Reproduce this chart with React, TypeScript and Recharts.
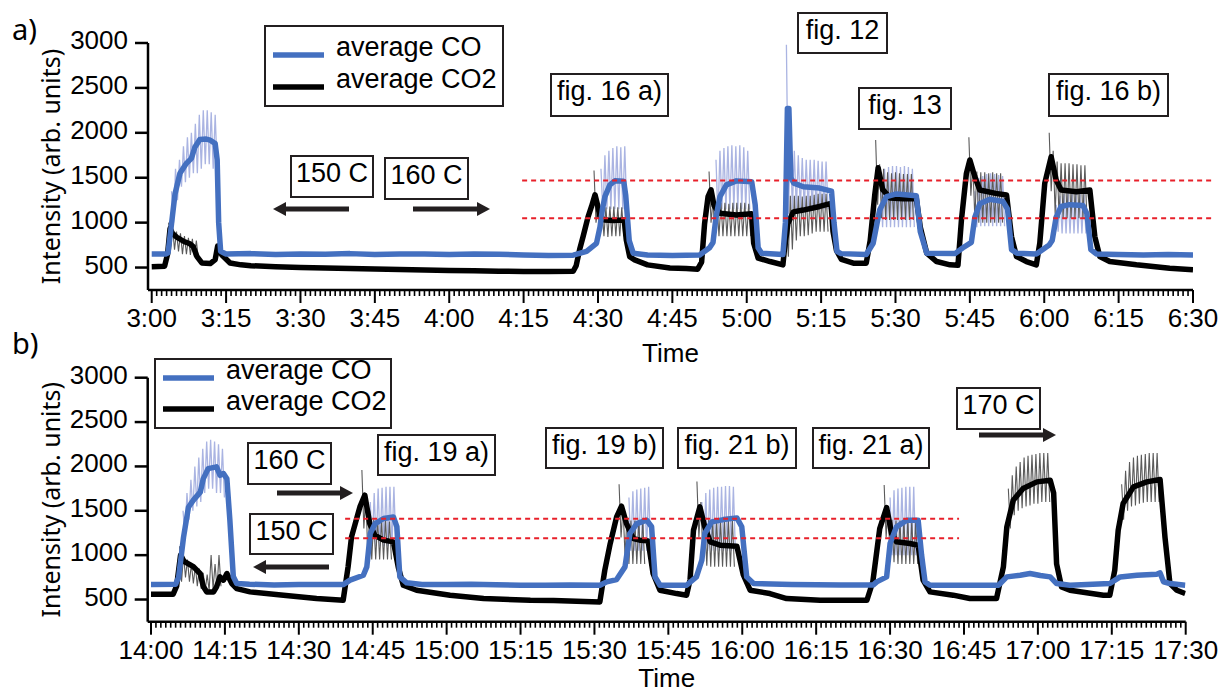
import React from "react";
import { LineChart, Line, XAxis, YAxis, ReferenceLine, Legend } from "recharts";

const SANS = "'Liberation Sans', Arial, Helvetica, sans-serif";
const HUMAN = "'Noto Sans', 'Open Sans', sans-serif";

const labelsA = ["3:00", "3:15", "3:30", "3:45", "4:00", "4:15", "4:30", "4:45", "5:00", "5:15", "5:30", "5:45", "6:00", "6:15", "6:30"];
const labelsB = ["14:00", "14:15", "14:30", "14:45", "15:00", "15:15", "15:30", "15:45", "16:00", "16:15", "16:30", "16:45", "17:00", "17:15", "17:30"];
const yTicks = [500, 1000, 1500, 2000, 2500, 3000];

// averages, [minutes after start, intensity]
const coA: [number, number][] = [
  [0, 650], [2.8, 650], [3.3, 665], [4.0, 990], [4.7, 1320], [5.7, 1550], [7.0, 1660], [8.0, 1715], [8.7, 1840], [9.7, 1925],
  [11.0, 1930], [11.8, 1918], [12.8, 1880], [13.2, 1700], [13.5, 1000], [13.9, 680], [15, 650], [20, 655], [25, 645], [30, 650],
  [35, 648], [40, 655], [45, 645], [50, 650], [55, 652], [60, 645], [65, 650], [70, 648], [75, 640], [80, 635], [85, 638],
  [87.7, 680], [89.7, 770], [90.4, 950], [90.9, 1150], [91.4, 1290], [92.4, 1420], [93.4, 1465], [95.2, 1460], [95.6, 1300],
  [96.3, 800], [97.1, 660], [100, 640], [105, 635], [110.5, 640], [112.5, 720], [113.2, 780], [113.8, 1060], [114.6, 1290],
  [115.9, 1420], [117.9, 1465], [121.0, 1455], [121.7, 1200], [122.3, 720], [123.0, 660], [127.3, 645], [127.8, 1000],
  [128.2, 2270], [128.5, 2270], [128.9, 1500], [129.5, 1440], [131.4, 1400], [134.7, 1385], [137.1, 1350], [137.6, 1000],
  [138.2, 680], [139, 655], [144.1, 645], [145.5, 770], [146.8, 1140], [148.2, 1290], [150.2, 1320], [154.2, 1300], [155.0, 900],
  [156.3, 660], [162, 655], [163.6, 720], [165.3, 780], [166.0, 1060], [167.0, 1210], [169.0, 1260], [171.7, 1235], [172.6, 1150],
  [173.4, 700], [174.5, 660], [178.4, 650], [181.0, 750], [181.6, 800], [182.4, 1060], [183.4, 1180], [185.1, 1200], [187.8, 1190],
  [188.6, 1100], [189.4, 700], [190.5, 652], [195, 645], [200, 640], [205, 645], [210, 640],
];

const co2A: [number, number][] = [
  [0, 510], [2.6, 515], [3.2, 650], [3.7, 935], [4.2, 880], [5.0, 840], [6.5, 790], [7.7, 765], [8.4, 730], [9.1, 625],
  [10.1, 551], [11.8, 544], [12.8, 589], [13.3, 740], [13.7, 680], [14.1, 643], [15.8, 551], [18, 530], [20, 520], [25, 510],
  [30, 500], [35, 495], [40, 490], [45, 485], [50, 478], [55, 472], [60, 468], [65, 465], [70, 460], [75, 455], [80, 455],
  [85, 458], [85.6, 520], [86.3, 700], [87.0, 845], [88.0, 1065], [88.7, 1180], [89.4, 1310], [89.9, 1200], [90.4, 1065],
  [91.3, 1030], [93.0, 1025], [95.3, 1030], [95.7, 810], [96.4, 620], [97.4, 585], [100, 530], [104.5, 495], [107.8, 490],
  [110.1, 482], [110.9, 560], [111.5, 990], [112.2, 1290], [112.8, 1365], [113.4, 1190], [114.0, 1140], [114.6, 1105],
  [117.9, 1085], [121.0, 1100], [121.4, 770], [122.3, 605], [124.7, 567], [127.3, 530], [127.6, 700], [128.3, 990],
  [129.4, 1120], [131.4, 1140], [134.7, 1180], [137.0, 1215], [137.4, 900], [138.1, 690], [139.1, 590], [141.5, 549],
  [144.1, 549], [144.9, 800], [145.8, 1300], [146.5, 1610], [147.4, 1370], [148.9, 1275], [151.5, 1265], [154.2, 1270],
  [155.0, 950], [156.3, 660], [158.3, 567], [161.0, 530], [162.6, 525], [163.3, 1030], [164.3, 1548], [165.0, 1697],
  [166.0, 1510], [167.0, 1363], [170.2, 1326], [172.4, 1308], [173.4, 845], [174.4, 623], [176.4, 567], [178.4, 530],
  [179.1, 770], [180.1, 1437], [181.4, 1734], [182.4, 1474], [183.4, 1363], [186.5, 1345], [189.2, 1363], [190.2, 845],
  [191.2, 623], [193.2, 567], [198.6, 530], [205.3, 493], [210, 475],
];

const coB: [number, number][] = [
  [0, 670], [5.0, 672], [5.6, 750], [6.6, 1200], [7.6, 1540], [8.6, 1620], [10.0, 1710], [10.6, 1860], [11.6, 1975], [13.3, 1995],
  [14.0, 1900], [14.7, 1920], [15.4, 1860], [16.0, 1400], [16.7, 760], [17.4, 680], [20, 672], [25, 665], [30, 668], [35, 670],
  [39, 668], [40.4, 718], [43.1, 774], [43.8, 868], [44.5, 1244], [45.5, 1356], [47.2, 1413], [49.2, 1431], [49.9, 1320],
  [50.5, 755], [51.9, 688], [55, 670], [60, 668], [65, 672], [70, 666], [75, 661], [80, 662], [85, 665], [91.1, 661],
  [92.5, 699], [94.5, 725], [96.2, 868], [97.2, 1244], [98.6, 1356], [100.6, 1394], [101.6, 1320], [102.3, 755], [103.3, 661],
  [108.7, 661], [110.7, 755], [111.8, 943], [112.4, 1244], [113.8, 1375], [116.2, 1401], [118.9, 1420], [119.9, 1320],
  [120.9, 755], [122.3, 680], [130, 670], [140, 665], [146.6, 665], [147.3, 699], [149.3, 755], [150.0, 1131], [151.3, 1319],
  [153.4, 1394], [155.7, 1394], [156.4, 1000], [157.1, 699], [158.1, 661], [165, 662], [172, 661], [173.7, 755], [176.4, 774],
  [178.4, 793], [180.5, 770], [182.5, 755], [183.8, 680], [186.5, 661], [194.6, 680], [196.7, 755], [200.1, 774], [204.1, 785],
  [204.8, 800], [205.5, 700], [206.8, 680], [209.9, 661],
];

const co2B: [number, number][] = [
  [0, 560], [4.5, 560], [5.2, 650], [6.0, 1000], [6.7, 930], [8.6, 870], [10.0, 790], [10.6, 650], [11.3, 586], [12.7, 586],
  [13.3, 642], [14.0, 755], [14.7, 718], [15.4, 793], [16.4, 680], [17.4, 623], [20.1, 586], [26.9, 549], [33.6, 511], [39.0, 492],
  [40.0, 868], [40.7, 1206], [42.4, 1544], [43.4, 1676], [44.4, 1356], [45.4, 1225], [47.2, 1169], [49.2, 1150], [50.2, 860],
  [51.2, 661], [53.9, 605], [60.7, 549], [67.5, 511], [77, 492], [81.7, 490], [91.1, 473], [92.1, 830], [93.2, 1131],
  [94.5, 1431], [95.5, 1552], [96.5, 1356], [97.9, 1187], [99.2, 1169], [100.9, 1161], [101.9, 793], [103.3, 605], [106.7, 567],
  [108.7, 549], [109.4, 720], [110.1, 1281], [111.4, 1544], [112.4, 1319], [113.5, 1150], [115.5, 1112], [118.9, 1101],
  [120.2, 780], [121.6, 605], [125.6, 567], [129.0, 511], [135.8, 492], [145.3, 492], [146.5, 700], [147.9, 1300], [149.3, 1537],
  [150.3, 1244], [151.3, 1150], [154.0, 1131], [155.7, 1112], [156.7, 718], [158.1, 586], [162.8, 549], [166.2, 511],
  [171.6, 511], [173.0, 868], [173.7, 1319], [175.0, 1619], [177.0, 1751], [179.8, 1826], [182.5, 1845], [183.2, 1700],
  [183.8, 900], [184.8, 642], [186.5, 605], [193.3, 549], [194.6, 549], [195.6, 830], [196.3, 1281], [197.3, 1582],
  [199.4, 1770], [202.1, 1826], [204.8, 1852], [205.8, 1200], [206.8, 680], [208.2, 605], [209.9, 567],
];

// raw pulsed signal: [start minute, [[high, low] per pulse]]
type Block = [number, [number, number][]];
const PULSE = 0.8;

const coRawA: Block[] = [
  [4.0, [[1350, 1000], [1600, 1250], [1700, 1400], [1850, 1450], [1950, 1500], [2000, 1550], [2100, 1550], [2200, 1600], [2250, 1650], [2250, 1650], [2230, 1600], [2200, 1600]]],
  [90.6, [[1600, 1100], [1750, 1150], [1800, 1150], [1830, 1150], [1850, 1150], [1840, 1150], [1850, 1150]]],
  [113.8, [[1700, 1050], [1800, 1150], [1830, 1150], [1850, 1150], [1860, 1150], [1850, 1150], [1860, 1150], [1840, 1150], [1800, 1150]]],
  [128.0, [[2980, 1100], [1900, 1150], [1800, 1150], [1750, 1150], [1720, 1150], [1700, 1150], [1700, 1150], [1700, 1150], [1690, 1150], [1680, 1150], [1680, 1150]]],
  [147.0, [[1500, 950], [1600, 950], [1620, 950], [1630, 950], [1630, 950], [1620, 950], [1630, 950], [1620, 950], [1600, 950]]],
  [166.0, [[1350, 950], [1500, 960], [1520, 960], [1540, 960], [1550, 960], [1540, 960], [1530, 960], [1520, 960]]],
  [182.4, [[1200, 900], [1300, 880], [1320, 880], [1330, 880], [1330, 880], [1330, 880], [1320, 880], [1320, 880]]],
];

const co2RawA: Block[] = [
  [3.4, [[1000, 700], [950, 700], [900, 680], [880, 650], [850, 650], [830, 640], [820, 620], [800, 600]]],
  [89.2, [[1580, 1000], [1180, 850], [1180, 850], [1170, 840], [1180, 850], [1180, 850], [1170, 850], [1170, 850]]],
  [112.4, [[1570, 1000], [1250, 850], [1220, 850], [1220, 850], [1220, 850], [1210, 850], [1220, 850], [1220, 850], [1220, 850], [1220, 850], [1210, 850]]],
  [128.0, [[1000, 620], [1300, 700], [1300, 800], [1300, 850], [1290, 850], [1300, 860], [1300, 880], [1310, 900], [1320, 900], [1320, 900], [1320, 900]]],
  [146.0, [[1920, 1200], [1650, 1050], [1600, 1030], [1560, 1030], [1550, 1030], [1560, 1030], [1550, 1030], [1540, 1030], [1540, 1030], [1540, 1030]]],
  [164.8, [[1950, 1300], [1650, 1050], [1570, 1000], [1560, 1000], [1560, 1000], [1550, 1000], [1560, 1000], [1550, 1000], [1550, 1000]]],
  [181.0, [[2000, 1350], [1800, 1100], [1680, 1050], [1660, 1050], [1660, 1050], [1660, 1050], [1650, 1050], [1650, 1050], [1640, 1050], [1640, 1050]]],
];

const coRawB: Block[] = [
  [6.5, [[1500, 1200], [1700, 1400], [1850, 1500], [2000, 1550], [2100, 1600], [2200, 1700], [2280, 1750], [2300, 1750], [2280, 1700], [2250, 1700], [2200, 1650]]],
  [44.5, [[1600, 1100], [1700, 1100], [1750, 1100], [1760, 1100], [1770, 1100], [1770, 1100], [1770, 1100]]],
  [97.0, [[1650, 1050], [1720, 1050], [1740, 1050], [1750, 1050], [1760, 1050], [1770, 1050]]],
  [111.8, [[1600, 1000], [1700, 1050], [1740, 1050], [1760, 1050], [1770, 1050], [1770, 1050], [1780, 1050], [1780, 1050], [1770, 1050]]],
  [150.0, [[1650, 1000], [1730, 1000], [1750, 1000], [1760, 1000], [1770, 1000], [1770, 1000], [1770, 1000]]],
];

const co2RawB: Block[] = [
  [5.8, [[1100, 700], [1000, 750], [950, 700], [900, 680], [880, 650], [850, 620], [800, 600], [780, 600], [1000, 620], [900, 620], [1000, 650]]],
  [42.8, [[1960, 1300], [1700, 1000], [1500, 950], [1400, 950], [1400, 950], [1390, 950], [1400, 950], [1380, 950]]],
  [95.0, [[1800, 1200], [1550, 1000], [1400, 900], [1390, 900], [1390, 900], [1400, 900], [1390, 900]]],
  [110.8, [[1830, 1200], [1600, 1000], [1420, 880], [1400, 870], [1400, 870], [1400, 870], [1390, 870], [1400, 870], [1400, 870], [1390, 870]]],
  [148.8, [[1790, 1200], [1550, 950], [1400, 920], [1390, 900], [1390, 900], [1390, 900], [1390, 900], [1380, 900], [1380, 900]]],
  [174.0, [[1750, 1300], [1900, 1450], [2000, 1500], [2050, 1530], [2100, 1550], [2120, 1560], [2130, 1580], [2140, 1580], [2150, 1600], [2150, 1600], [2150, 1600]]],
  [197.0, [[1800, 1400], [1950, 1500], [2050, 1550], [2100, 1560], [2120, 1580], [2130, 1590], [2140, 1600], [2150, 1600], [2150, 1600], [2150, 1600]]],
];

// red dashed guide levels and their span in minutes
const refLevelsA = [1470, 1050];
const refSpanA = [74.7, 214];
const refLevelsB = [1410, 1190];
const refSpanB = [39.4, 164];

const pts = (arr: [number, number][]) => arr.map(([t, v]) => ({ t, v }));

function zigzag(blocks: Block[]) {
  const out: { t: number; v: number | null }[] = [];
  blocks.forEach(([t0, pairs]) => {
    pairs.forEach(([hi, lo], i) => {
      out.push({ t: t0 + i * PULSE, v: hi });
      out.push({ t: t0 + i * PULSE + PULSE / 2, v: lo });
    });
    out.push({ t: t0 + pairs.length * PULSE, v: null });
  });
  return out;
}

const minuteTicks = Array.from({ length: 211 }, (_, i) => i);

const BLUE = "#4470c0";
const LIGHT_BLUE = "#aab4e2";
const GRAY = "#5a5a5a";
const RED = "#e8202a";

function XTick(props: any) {
  const { x, y, payload, labels } = props;
  const m = payload.value;
  const major = m % 15 === 0;
  return (
    <g>
      <line x1={x} x2={x} y1={y} y2={y + (major ? 13 : 6)} stroke="#000" strokeWidth={major ? 2 : 1.6} />
      {major && (
        <text x={x} y={y + 37} textAnchor="middle" fontSize={26} fontFamily={SANS} fill="#000">
          {labels[m / 15]}
        </text>
      )}
    </g>
  );
}

function YTick(props: any) {
  const { x, y, payload } = props;
  return (
    <text x={x} y={y + 6} textAnchor="end" fontSize={26} fontFamily={SANS} fill="#000">
      {payload.value}
    </text>
  );
}

const PAD = 10;

function LegendBox({ w, h, rows }: { w: number; h: number; rows: { label: string; color: string; y: number }[] }) {
  return (
    <svg width={w + 2 * PAD} height={h + 2 * PAD} style={{ display: "block" }}>
      <g transform={`translate(${PAD},${PAD})`}>
        <rect x={1} y={1} width={w - 2} height={h - 2} fill="#fff" stroke="#231f20" strokeWidth={2} />
        {rows.map((r) => (
          <g key={r.label}>
            <line x1={9} x2={60} y1={r.y} y2={r.y} stroke={r.color} strokeWidth={5.5} />
            <text x={72} y={r.y + 1} fontSize={27} fontFamily={SANS} fill="#000">
              {r.label}
            </text>
          </g>
        ))}
      </g>
    </svg>
  );
}

type PanelProps = {
  top: number;
  height: number;
  margin: { top: number; right: number; bottom: number; left: number };
  xStart: number;
  axisHeight: number;
  labels: string[];
  co: [number, number][];
  co2: [number, number][];
  coRaw: Block[];
  co2Raw: Block[];
  refLevels: number[];
  refSpan: number[];
  legend: { left: number; top: number; w: number; h: number; y1: number; y2: number };
  timeOffset: number;
};

function Panel(p: PanelProps) {
  return (
    <div style={{ position: "absolute", left: 0, top: p.top }}>
      <LineChart width={1224} height={p.height} margin={p.margin}>
        <XAxis
          type="number"
          dataKey="t"
          domain={[p.xStart, 210]}
          allowDataOverflow
          ticks={minuteTicks}
          interval={0}
          tickSize={0}
          tickMargin={0}
          tickLine={false}
          tick={(tp: any) => <XTick {...tp} labels={p.labels} />}
          axisLine={{ stroke: "#000", strokeWidth: 2.5 }}
          height={p.axisHeight}
          label={{ value: "Time", position: "insideBottom", offset: p.timeOffset, style: { fontSize: 26, fontFamily: SANS, fill: "#000" } }}
        />
        <YAxis
          type="number"
          domain={[250, 3000]}
          allowDataOverflow
          ticks={yTicks}
          interval={0}
          width={70}
          tickSize={13}
          tickMargin={7}
          tickLine={{ stroke: "#000", strokeWidth: 2.5 }}
          axisLine={{ stroke: "#000", strokeWidth: 2.5 }}
          tick={(tp: any) => <YTick {...tp} />}
          label={{
            value: "Intensity (arb. units)",
            angle: -90,
            position: "insideLeft",
            offset: -27,
            style: { textAnchor: "middle", fontSize: 25, fontFamily: HUMAN, fill: "#000" },
          }}
        />
        <Legend
          layout="vertical"
          align="center"
          verticalAlign="middle"
          wrapperStyle={{ left: p.legend.left - PAD, top: p.legend.top - PAD, width: p.legend.w + 2 * PAD, height: p.legend.h + 2 * PAD }}
          content={() => (
            <LegendBox
              w={p.legend.w}
              h={p.legend.h}
              rows={[
                { label: "average CO", color: BLUE, y: p.legend.y1 },
                { label: "average CO2", color: "#000", y: p.legend.y2 },
              ]}
            />
          )}
        />
        <Line data={zigzag(p.coRaw)} dataKey="v" stroke={LIGHT_BLUE} strokeWidth={1.3} dot={false} isAnimationActive={false} legendType="none" connectNulls={false} />
        <Line data={zigzag(p.co2Raw)} dataKey="v" stroke={GRAY} strokeWidth={1.1} dot={false} isAnimationActive={false} legendType="none" connectNulls={false} />
        <Line data={pts(p.co2)} dataKey="v" name="average CO2" stroke="#000" strokeWidth={5.5} strokeLinejoin="round" dot={false} isAnimationActive={false} />
        <Line data={pts(p.co)} dataKey="v" name="average CO" stroke={BLUE} strokeWidth={5.5} strokeLinejoin="round" dot={false} isAnimationActive={false} />
        {p.refLevels.map((lvl) => (
          <ReferenceLine
            key={lvl}
            segment={[{ x: p.refSpan[0], y: lvl }, { x: p.refSpan[1], y: lvl }]}
            stroke={RED}
            strokeWidth={2}
            strokeDasharray="5 4"
            ifOverflow="visible"
          />
        ))}
      </LineChart>
    </div>
  );
}

function Box({ x, y, w, h, text }: { x: number; y: number; w: number; h: number; text: string }) {
  return (
    <g>
      <rect x={x} y={y} width={w} height={h} fill="#fff" stroke="#231f20" strokeWidth={2} />
      <text x={x + w / 2} y={y + 26} textAnchor="middle" fontSize={27} fontFamily={SANS} fill="#000">
        {text}
      </text>
    </g>
  );
}

function Arrow({ x1, x2, y }: { x1: number; x2: number; y: number }) {
  const dir = x2 > x1 ? 1 : -1;
  const base = x2 - dir * 13;
  return (
    <g>
      <line x1={x1} x2={base} y1={y} y2={y} stroke="#231f20" strokeWidth={5} />
      <polygon points={`${x2},${y} ${base},${y - 7} ${base},${y + 7}`} fill="#231f20" />
    </g>
  );
}

export default function App() {
  return (
    <div style={{ position: "absolute", left: 0, top: 0, width: 1224, height: 693, background: "#fff", overflow: "hidden" }}>
      <Panel
        top={0}
        height={375}
        margin={{ top: 43, right: 31, bottom: 0, left: 78 }}
        xStart={-0.75}
        axisHeight={85}
        labels={labelsA}
        co={coA}
        co2={co2A}
        coRaw={coRawA}
        co2Raw={co2RawA}
        refLevels={refLevelsA}
        refSpan={refSpanA}
        legend={{ left: 264, top: 25, w: 240, h: 82, y1: 30, y2: 62 }}
        timeOffset={13}
      />
      <Panel
        top={330}
        height={363}
        margin={{ top: 47.7, right: 38.3, bottom: 0, left: 77.7 }}
        xStart={-0.67}
        axisHeight={71.3}
        labels={labelsB}
        co={coB}
        co2={co2B}
        coRaw={coRawB}
        co2Raw={co2RawB}
        refLevels={refLevelsB}
        refSpan={refSpanB}
        legend={{ left: 154, top: 28, w: 238, h: 71, y1: 20, y2: 51 }}
        timeOffset={6}
      />
      <svg width={1224} height={693} style={{ position: "absolute", left: 0, top: 0, pointerEvents: "none" }}>
        <text x={12} y={40} fontSize={29} fontFamily={HUMAN} fill="#000">a)</text>
        <text x={12} y={354} fontSize={29} fontFamily={HUMAN} fill="#000">b)</text>
        <Box x={291} y={156} w={82} h={41} text="150 C" />
        <Box x={385} y={158} w={83} h={41} text="160 C" />
        <Arrow x1={349} x2={273} y={209} />
        <Arrow x1={413} x2={490} y={209} />
        <Box x={551} y={74} w={117} h={42} text="fig. 16 a)" />
        <Box x={798} y={13} w={89} h={40} text="fig. 12" />
        <Box x={859} y={88} w={92} h={41} text="fig. 13" />
        <Box x={1049} y={74} w={119} h={42} text="fig. 16 b)" />
        <Box x={248} y={443} w={83} h={41} text="160 C" />
        <Box x={250} y={514} w={83} h={40} text="150 C" />
        <Arrow x1={277} x2={353} y={493} />
        <Arrow x1={329} x2={253} y={567} />
        <Box x={378} y={435} w={117} h={40} text="fig. 19 a)" />
        <Box x={546} y={428} w={117} h={40} text="fig. 19 b)" />
        <Box x={678} y={428} w={118} h={40} text="fig. 21 b)" />
        <Box x={813} y={428} w={116} h={40} text="fig. 21 a)" />
        <Box x={957} y={388} w={83} h={41} text="170 C" />
        <Arrow x1={979} x2={1056} y={435} />
      </svg>
    </div>
  );
}
